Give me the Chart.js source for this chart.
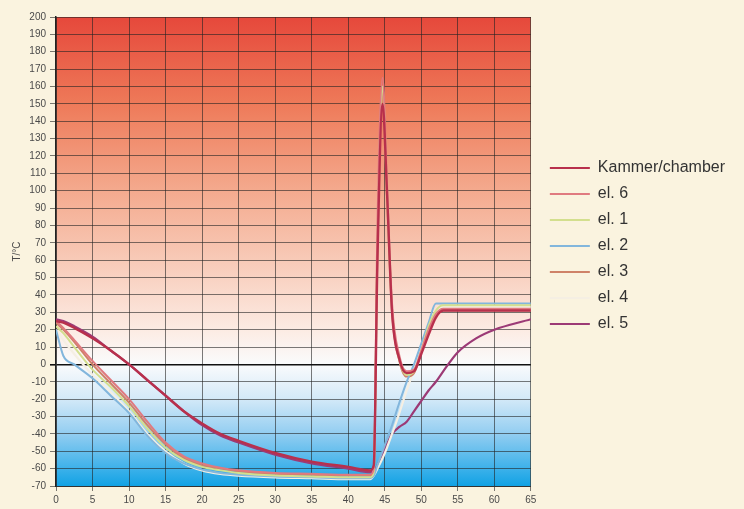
<!DOCTYPE html>
<html>
<head>
<meta charset="utf-8">
<script src="https://cdn.jsdelivr.net/npm/chart.js@4.4.1/dist/chart.umd.min.js"></script>
<style>
  html, body { margin: 0; padding: 0; background: #faf3df; }
  #wrap { width: 744px; height: 509px; position: relative; }
</style>
</head>
<body>
<div id="wrap"><canvas id="grafica"></canvas></div>
<script>
// tiempo (eje x) y temperaturas
const tiempos = [0, 1, 2.5, 5, 7.5, 10, 12.5, 15, 17.5, 20, 22.5, 25, 30, 35, 40, 43, 43.5, 44, 44.7, 45.3, 46, 47, 48, 49, 50, 51, 52, 53, 55, 57.5, 60, 65];

const kammer = [25, 24, 21, 15, 8, 0, -9, -18, -27, -34, -40, -44, -51, -56, -59, -61, -58, 60, 150, 100, 30, 3, -5, -4, 6, 17, 27, 31, 31, 31, 31, 31];
const el6    = [25, 21, 14, 2, -9, -20, -33, -45, -53, -57, -59.5, -61, -62.5, -63, -63.5, -63.5, -60, 80, 165, 105, 35, 5, -4, -3, 8, 20, 29, 32, 32, 32, 32, 32];
const el1    = [22, 18, 10, -3, -13, -24, -37, -48, -55, -59, -61, -62.5, -64, -64.5, -65, -65, -62, 70, 160, 100, 32, 3, -6, -4, 8, 22, 31, 34, 34, 34, 34, 34];
const el2    = [20, 5, 0, -8, -18, -28, -41, -51, -57, -60.5, -62.5, -63.5, -64.5, -65, -65.5, -65.5, -64, -58, -50, -43, -35, -22, -10, 0, 12, 24, 35, 35, 35, 35, 35, 35];
const el3    = [24, 20, 13, 0, -11, -22, -35, -46, -54, -58, -60, -61.5, -63, -63.5, -64, -64, -61, 65, 155, 98, 30, 2, -7, -5, 7, 20, 29, 31, 31, 31, 31, 31];
const el4    = [20, 14, 6, -6, -16, -27, -40, -50, -57, -61, -63, -64, -65, -65.5, -66, -66, -64, -60, -54, -48, -40, -28, -15, -3, 10, 22, 31, 33, 33, 33, 33, 33];
const el5    = [26, 25, 22, 16, 8, 0, -9, -18, -27, -35, -41, -45, -52, -57, -60, -62, -62, -58, -52, -46, -40, -36, -33, -27, -21, -15, -10, -4, 7, 15, 20, 26];

const series = [
    { label: 'Kammer/chamber', valores: kammer, color: '#b8304c', ancho: 2.4 },
    { label: 'el. 6', valores: el6, color: '#e07a80', ancho: 2 },
    { label: 'el. 1', valores: el1, color: '#d3df8e', ancho: 2 },
    { label: 'el. 2', valores: el2, color: '#82b6dc', ancho: 2 },
    { label: 'el. 3', valores: el3, color: '#cf8268', ancho: 2 },
    { label: 'el. 4', valores: el4, color: '#f5efe3', ancho: 2.2 },
    { label: 'el. 5', valores: el5, color: '#9c3a76', ancho: 2.2 }
];

// fondo degradado rojo -> blanco -> azul dentro del area del grafico
const fondoPlugin = {
    id: 'fondoGradiente',
    beforeDraw(chart) {
        const { ctx, chartArea: a } = chart;
        const g = ctx.createLinearGradient(0, a.top, 0, a.bottom);
        const paradas = [[200, '#e6483b'], [150, '#ee7a59'], [100, '#f4aa8e'], [50, '#f9d2c2'], [20, '#fcebe3'], [0, '#fafbfc'], [-20, '#d3e9f8'], [-40, '#92cdf1'], [-60, '#3cb1ea'], [-70, '#12a2e4']];
        paradas.forEach(([v, c]) => g.addColorStop((200 - v) / 270, c));
        ctx.save();
        ctx.fillStyle = g;
        ctx.fillRect(a.left, a.top, a.right - a.left, a.bottom - a.top);
        ctx.restore();
    }
};

const fuente = "'Liberation Sans', Arial, sans-serif";

new Chart(document.getElementById('grafica'), {
    type: 'line',
    data: {
        datasets: series.map(s => ({
            label: s.label,
            data: tiempos.map((t, i) => ({ x: t, y: s.valores[i] })),
            borderColor: s.color,
            backgroundColor: s.color,
            borderWidth: s.ancho,
            pointRadius: 0,
            cubicInterpolationMode: 'monotone',
            fill: false
        }))
    },
    options: {
        responsive: true,
        maintainAspectRatio: false,
        animation: false,
        layout: { padding: { top: 17, right: 9, left: 0, bottom: 0 } },
        scales: {
            x: {
                type: 'linear', min: 0, max: 65,
                ticks: { stepSize: 5, color: '#4a4a4a', font: { family: fuente, size: 10 }, padding: 3, maxRotation: 0 },
                grid: { color: 'rgba(35,35,35,0.6)', lineWidth: 1, tickLength: 5 },
                border: { color: '#333', width: 1 }
            },
            y: {
                min: -70, max: 200,
                ticks: { stepSize: 10, color: '#4a4a4a', font: { family: fuente, size: 10 }, padding: 4 },
                grid: {
                    color: c => (c.tick && c.tick.value === 0) ? '#111' : 'rgba(35,35,35,0.6)',
                    lineWidth: c => (c.tick && c.tick.value === 0) ? 1.6 : 1,
                    tickLength: 6
                },
                border: { color: '#222', width: 1.5 },
                title: { display: true, text: 'T/°C', color: '#4a4a4a', font: { family: fuente, size: 10 }, padding: { top: 11, bottom: 0 } },
                afterFit: s => { s.width = 56; }
            },
            // separacion entre el grafico y la leyenda
            hueco: {
                type: 'linear', axis: 'y', position: 'right', display: true,
                grid: { display: false }, ticks: { display: false }, border: { display: false },
                afterFit: s => { s.width = 9; }
            }
        },
        plugins: {
            legend: {
                position: 'right',
                fullSize: false,
                maxWidth: 220,
                align: 'start',
                // titulo vacio solo para bajar la leyenda a su sitio
                title: { display: true, text: '', font: { size: 10 }, padding: { top: 121, bottom: 0 } },
                labels: {
                    boxWidth: 40, boxHeight: 2, padding: 10, color: '#333',
                    font: { family: fuente, size: 16 },
                    generateLabels(chart) {
                        return Chart.defaults.plugins.legend.labels.generateLabels(chart)
                            .map(l => ({ ...l, fillStyle: l.strokeStyle, lineWidth: 0 }));
                    }
                }
            },
            tooltip: { enabled: false }
        }
    },
    plugins: [fondoPlugin]
});
</script>
</body>
</html>
